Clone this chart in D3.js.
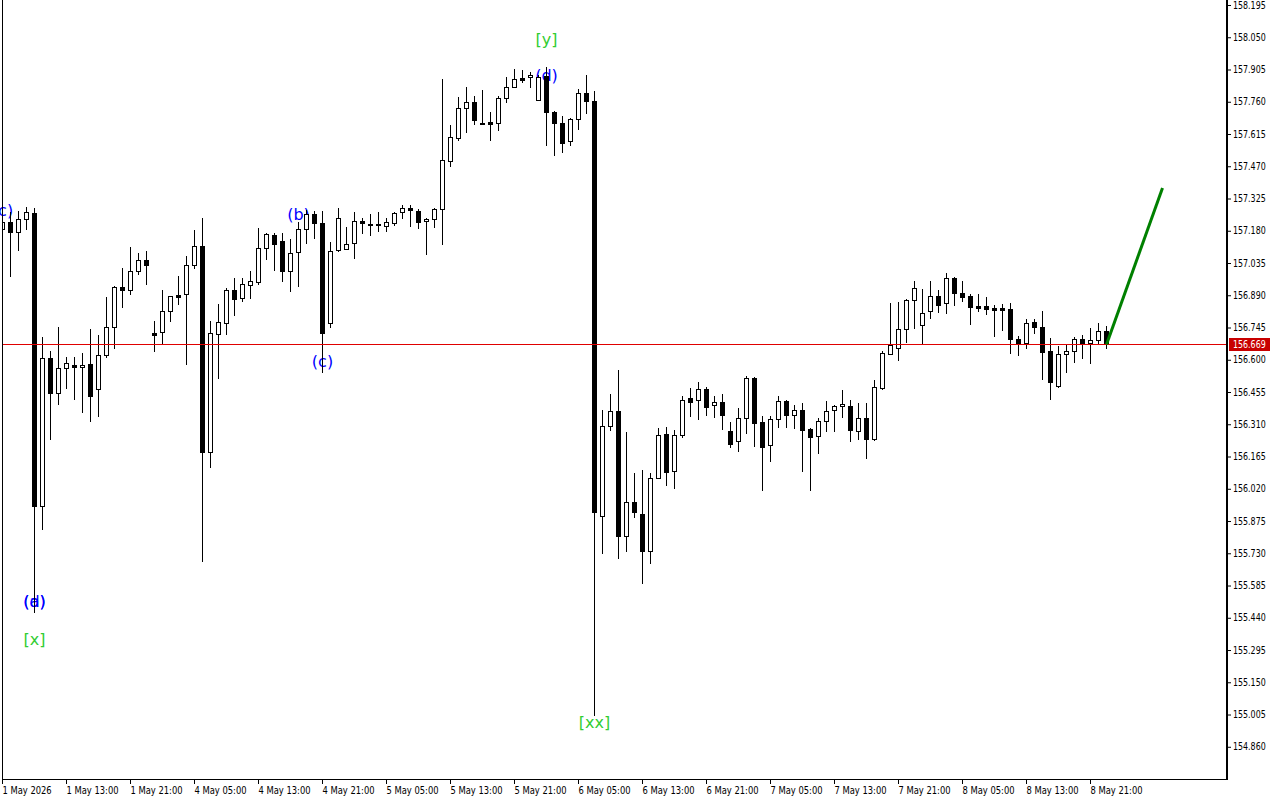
<!DOCTYPE html>
<html><head><meta charset="utf-8">
<script src="https://cdn.jsdelivr.net/npm/d3@7"></script>
<style>
html,body{margin:0;padding:0;background:#fff;overflow:hidden}
svg{display:block}
.ax text{font-family:'DejaVu Sans Condensed','Liberation Sans',sans-serif;font-size:10px;fill:#000}
.ax line{stroke:#000}
.wave{font-family:'DejaVu Sans',sans-serif;font-size:16px}
</style></head><body>
<svg id="c" width="1280" height="800"></svg>
<script>
const opens=[157.188,157.219,157.174,157.233,157.260,155.942,156.608,156.450,156.563,156.576,156.567,156.581,156.468,156.621,156.747,156.927,156.914,156.999,157.048,156.720,156.725,156.819,156.891,156.896,157.026,157.111,156.185,156.716,156.765,156.914,156.878,156.936,156.950,157.102,157.161,157.134,156.999,157.084,157.188,157.255,157.215,156.765,157.093,157.098,157.125,157.224,157.210,157.210,157.201,157.215,157.264,157.282,157.269,157.224,157.233,157.278,157.494,157.597,157.732,157.759,157.666,157.669,157.664,157.777,157.826,157.867,157.871,157.768,157.876,157.714,157.664,157.584,157.682,157.799,157.763,155.897,156.302,156.370,155.808,155.960,155.906,155.740,156.068,156.266,156.100,156.262,156.428,156.419,156.468,156.397,156.410,156.280,156.235,156.338,156.518,156.320,156.217,156.334,156.415,156.352,156.374,156.289,156.257,156.325,156.374,156.392,156.392,156.280,156.338,156.244,156.473,156.626,156.653,156.738,156.869,156.756,156.819,156.887,156.855,156.968,156.900,156.887,156.842,156.842,156.833,156.833,156.828,156.693,156.675,156.770,156.747,156.639,156.482,156.626,156.639,156.693,156.675,156.689,156.729];
const highs=[157.251,157.264,157.269,157.287,157.282,156.702,156.639,156.747,156.612,156.612,156.630,156.738,156.711,156.882,156.932,157.013,157.107,157.080,157.089,156.774,156.914,156.887,156.977,157.066,157.183,157.237,156.774,156.851,156.923,156.968,156.968,156.999,157.192,157.170,157.170,157.170,157.143,157.219,157.273,157.269,157.269,157.129,157.282,157.197,157.264,157.237,157.255,157.264,157.237,157.264,157.296,157.296,157.278,157.237,157.282,157.862,157.656,157.781,157.826,157.786,157.813,157.714,157.786,157.871,157.907,157.903,157.894,157.880,157.916,157.718,157.696,157.687,157.817,157.880,157.808,156.374,156.446,156.554,156.275,156.091,156.104,156.091,156.293,156.298,156.284,156.437,156.473,156.500,156.477,156.437,156.446,156.320,156.383,156.527,156.522,156.347,156.347,156.437,156.419,156.397,156.406,156.293,156.338,156.415,156.397,156.464,156.419,156.406,156.406,156.509,156.639,156.855,156.860,156.873,156.954,156.918,156.954,156.914,156.990,156.972,156.954,156.896,156.896,156.882,156.846,156.851,156.855,156.707,156.783,156.783,156.819,156.698,156.662,156.666,156.702,156.711,156.743,156.765,156.752];
const lows=[157.174,156.977,157.093,157.188,155.466,155.839,156.244,156.401,156.473,156.424,156.365,156.325,156.347,156.612,156.653,156.837,156.896,156.986,156.941,156.639,156.671,156.774,156.851,156.581,157.013,155.695,156.118,156.518,156.716,156.801,156.864,156.878,156.941,157.053,157.004,156.954,156.909,156.932,157.125,157.147,156.545,156.747,157.089,157.098,157.057,157.170,157.161,157.179,157.179,157.206,157.237,157.201,157.192,157.075,157.197,157.120,157.471,157.588,157.624,157.660,157.658,157.588,157.633,157.759,157.826,157.849,157.826,157.768,157.566,157.521,157.534,157.566,157.638,157.709,155.003,155.731,156.284,155.709,155.740,155.893,155.596,155.686,156.068,156.037,156.023,156.253,156.347,156.334,156.352,156.343,156.289,156.208,156.190,156.271,156.212,156.014,156.145,156.298,156.298,156.293,156.100,156.014,156.181,156.280,156.280,156.343,156.235,156.244,156.158,156.239,156.468,156.626,156.599,156.680,156.743,156.671,156.788,156.815,156.810,156.846,156.864,156.761,156.819,156.806,156.707,156.734,156.630,156.621,156.653,156.720,156.513,156.424,156.477,156.545,156.590,156.608,156.585,156.671,156.653];
const closes=[157.219,157.174,157.233,157.264,155.942,156.608,156.450,156.563,156.585,156.567,156.576,156.437,156.621,156.747,156.927,156.914,156.999,157.048,157.026,156.711,156.819,156.887,156.882,157.026,157.111,156.185,156.720,156.770,156.914,156.873,156.941,156.954,157.102,157.165,157.120,156.999,157.080,157.188,157.255,157.215,156.720,157.089,157.237,157.120,157.224,157.215,157.206,157.206,157.219,157.260,157.282,157.273,157.219,157.233,157.278,157.498,157.602,157.732,157.759,157.678,157.662,157.660,157.777,157.826,157.862,157.858,157.880,157.871,157.714,157.664,157.575,157.682,157.799,157.763,155.915,156.302,156.370,155.808,155.960,155.915,155.740,156.068,156.262,156.095,156.262,156.419,156.410,156.468,156.388,156.410,156.352,156.221,156.338,156.518,156.316,156.208,156.334,156.415,156.352,156.374,156.284,156.253,156.325,156.370,156.392,156.401,156.284,156.338,156.244,156.477,156.630,156.666,156.738,156.869,156.923,156.810,156.887,156.846,156.968,156.900,156.882,156.837,156.833,156.828,156.824,156.824,156.693,156.671,156.765,156.747,156.635,156.500,156.626,156.639,156.693,156.675,156.689,156.729,156.669];

const timeIdx=[0,8,16,24,32,40,48,56,64,72,80,88,96,104,112,120,128,136];
const timeText=["1 May 2026","1 May 13:00","1 May 21:00","4 May 05:00","4 May 13:00","4 May 21:00","5 May 05:00","5 May 13:00","5 May 21:00","6 May 05:00","6 May 13:00","6 May 21:00","7 May 05:00","7 May 13:00","7 May 21:00","8 May 05:00","8 May 13:00","8 May 21:00"];
const priceTicks=[158.195,158.050,157.905,157.760,157.615,157.470,157.325,157.180,157.035,156.890,156.745,156.600,156.455,156.310,156.165,156.020,155.875,155.730,155.585,155.440,155.295,155.150,155.005,154.860];
const lastPrice=156.669;

const minorText=["(c)","(a)","(d)","(b)","(c)","(d)"];
const minorIdx=[0,4,4,37,40,68];
const minorPrice=[157.269,155.511,155.511,157.251,156.590,157.876];
const majorText=["[x]","[y]","[xx]"];
const majorIdx=[4,68,74];
const majorPrice=[155.344,158.042,154.967];
const projIdx=[138,145];
const projPrice=[156.669,157.372];

const svg=d3.select('#c');
const x=d3.scaleLinear().domain([0,140]).range([2,1122]);
const y=d3.scaleLinear().domain([154.7196,158.2175]).range([778,0]);
const px=i=>Math.round(x(i));
const py=v=>Math.round(y(v));

svg.append('defs').append('clipPath').attr('id','clip')
  .append('rect').attr('x',3).attr('y',0).attr('width',1223).attr('height',779);

// squeeze axis text to the narrow look of the reference
function squeeze(sel,f){
  sel.each(function(){
    const n=this.getComputedTextLength();
    d3.select(this).attr('textLength',(n*f).toFixed(1)).attr('lengthAdjust','spacingAndGlyphs');
  });
}

// wave labels (under candles)
const lab=svg.append('g');
lab.selectAll('text.mn').data(minorText).join('text').attr('class','wave')
  .attr('x',(d,k)=>x(minorIdx[k])+0.5).attr('y',(d,k)=>y(minorPrice[k]))
  .attr('text-anchor','middle').attr('dominant-baseline','central')
  .attr('fill','#0000ff').text(d=>d);
lab.selectAll('text.mj').data(majorText).join('text').attr('class','wave')
  .attr('x',(d,k)=>x(majorIdx[k])+0.5).attr('y',(d,k)=>y(majorPrice[k]))
  .attr('text-anchor','middle').attr('dominant-baseline','central')
  .attr('fill','#32cd32').text(d=>d);

const g=svg.append('g').attr('clip-path','url(#clip)');
const bars=d3.range(opens.length);
g.selectAll('line.wick').data(bars).join('line')
  .attr('x1',i=>px(i)+0.5).attr('x2',i=>px(i)+0.5)
  .attr('y1',i=>py(highs[i])).attr('y2',i=>py(lows[i])+1)
  .attr('stroke','#000').attr('stroke-width',1);
g.selectAll('rect.body').data(bars).join('rect')
  .each(function(i){
    const o=opens[i],c=closes[i];
    const top=py(Math.max(o,c)), bot=py(Math.min(o,c));
    const s=d3.select(this);
    if(c<o){
      s.attr('x',px(i)-2).attr('y',top).attr('width',5).attr('height',Math.max(1,bot-top+1)).attr('fill','#000');
    }else{
      s.attr('x',px(i)-2+0.5).attr('y',top+0.5).attr('width',4).attr('height',Math.max(1,bot-top)).attr('fill','#fff').attr('stroke','#000').attr('stroke-width',1);
    }
  });

// bid line
const ly=py(lastPrice)+0.5;
svg.append('line').attr('x1',3).attr('x2',1226).attr('y1',ly).attr('y2',ly).attr('stroke','#e00000').attr('stroke-width',1);

// projection
svg.append('line').attr('x1',x(projIdx[0])+0.5).attr('y1',y(projPrice[0]))
  .attr('x2',x(projIdx[1])+0.5).attr('y2',y(projPrice[1]))
  .attr('stroke','#008000').attr('stroke-width',3);

// frame
svg.append('line').attr('x1',2.5).attr('x2',2.5).attr('y1',0).attr('y2',780).attr('stroke','#000');
svg.append('line').attr('x1',2).attr('x2',1228).attr('y1',779.5).attr('y2',779.5).attr('stroke','#000');
svg.append('line').attr('x1',1227).attr('x2',1227).attr('y1',0).attr('y2',780).attr('stroke','#000').attr('stroke-width',2);

// right axis
const ya=svg.append('g').attr('class','ax').attr('transform','translate(1227,0)')
  .call(d3.axisRight(y).tickValues(priceTicks).tickFormat(d3.format('.3f')).tickSize(4).tickPadding(2));
ya.select('.domain').remove();
squeeze(ya.selectAll('text'),0.88);

// price tag
const tag=svg.append('g').attr('class','ax');
tag.append('rect').attr('x',1229).attr('y',py(lastPrice)-6).attr('width',41).attr('height',13).attr('fill','#c80000');
const tt=tag.append('text').attr('x',1233).attr('y',py(lastPrice)+0.5).attr('dominant-baseline','central')
  .style('fill','#fff').text(d3.format('.3f')(lastPrice));
squeeze(tt,0.88);

// bottom axis
const xa=svg.append('g').attr('class','ax').attr('transform','translate(0,779)')
  .call(d3.axisBottom(x).tickValues(timeIdx).tickFormat((d,k)=>timeText[k]).tickSize(5).tickPadding(3));
xa.select('.domain').remove();
xa.selectAll('text').attr('text-anchor','start').attr('x',0);
squeeze(xa.selectAll('text'),0.93);
</script>
</body></html>
